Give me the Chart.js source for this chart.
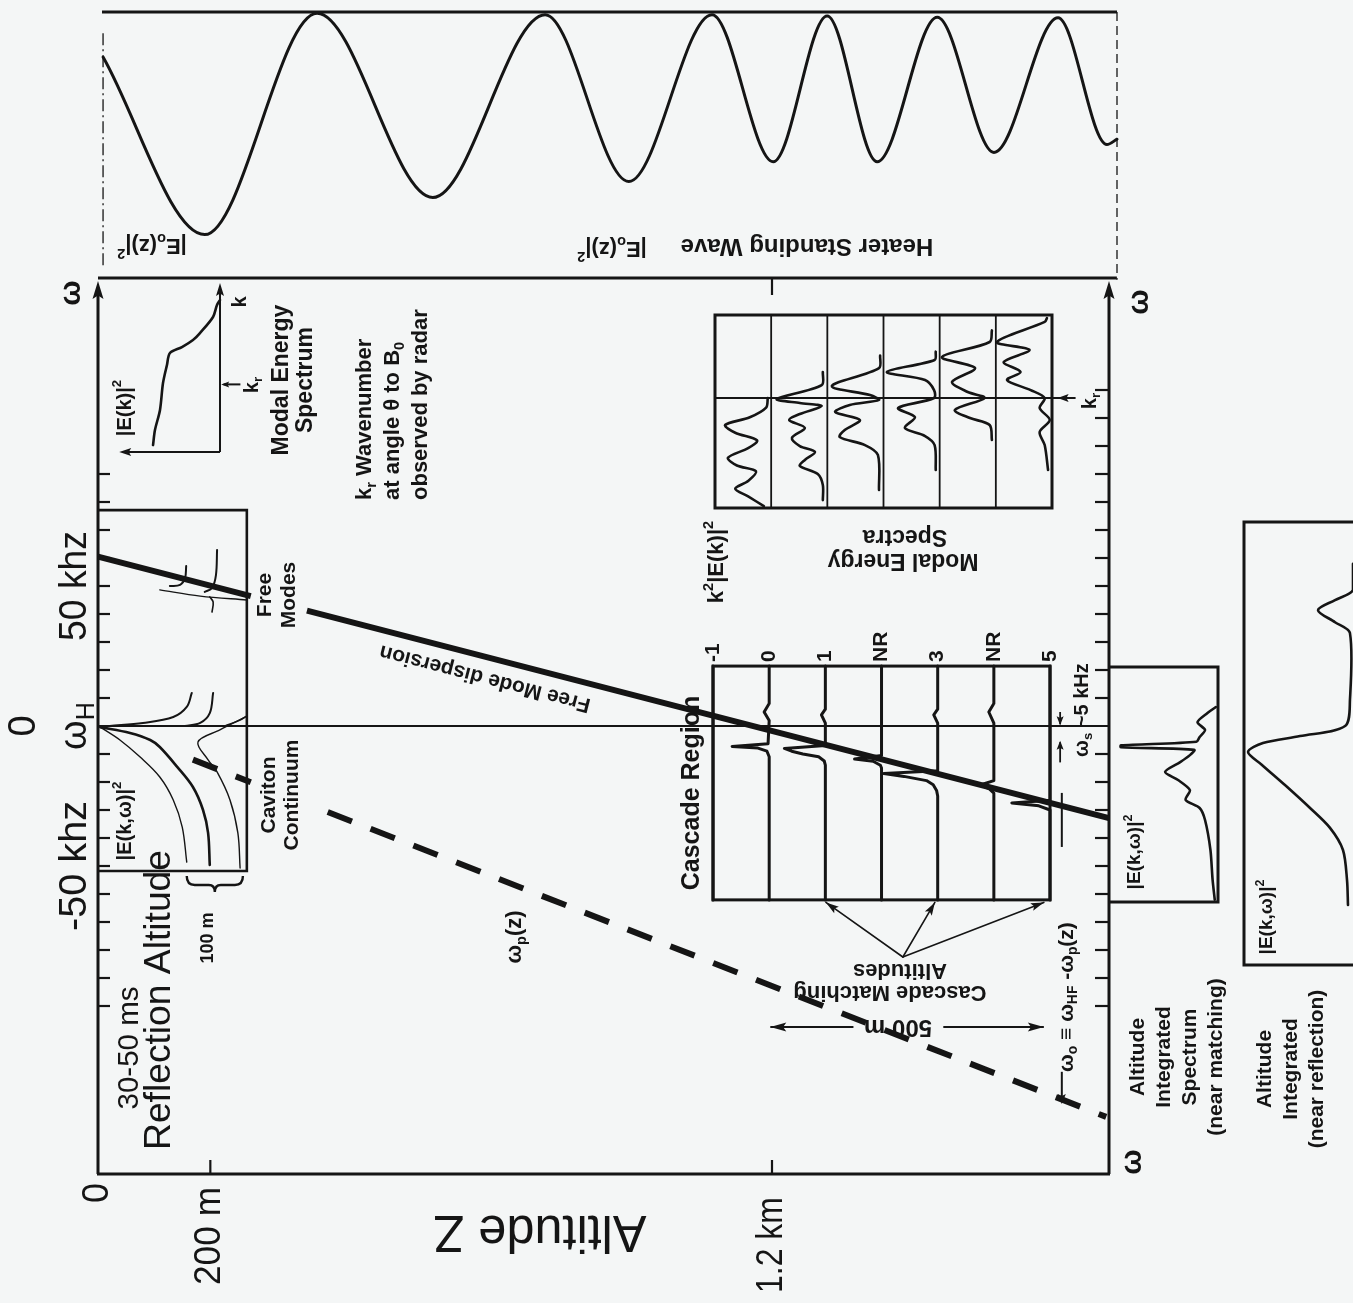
<!DOCTYPE html>
<html>
<head>
<meta charset="utf-8">
<title>Heater standing wave, cascade and caviton spectra</title>
<script src="https://cdn.jsdelivr.net/npm/chart.js@4.4.1/dist/chart.umd.min.js"></script>
<style>
  html, body { margin:0; padding:0; background:#f4f6f6; }
  #stage { position:relative; width:1353px; height:1303px; overflow:hidden; background:#f4f6f6; }
  #stage canvas { position:absolute; left:0; top:0; }
</style>
</head>
<body>
<div id="stage">
  <canvas id="cMain" width="1353" height="1303"></canvas>
  <canvas id="cWave" width="1353" height="1303"></canvas>
  <canvas id="cSpec" width="1353" height="1303"></canvas>
  <canvas id="cModal" width="1353" height="1303"></canvas>
  <canvas id="cMatch" width="1353" height="1303"></canvas>
  <canvas id="cRefl" width="1353" height="1303"></canvas>
</div>
<script>
// ===================== DATA =====================
// Main panel: altitude Z (m) horizontally, frequency offset from omega_H (kHz) vertically
const zLabelValues = [0, 200, 1200];
const zLabelTexts  = ['0', '200 m', '1.2 km'];
const zTickValues  = [200, 1200];
const wLabelValues = [50, -50];
const wLabelTexts  = ['50 khz', '-50 khz'];
const wTicksLeft  = [-100,-90,-80,-70,-60,-50,-40,-30,-20,-10,10,20,30,40,50,60,70,80,90];
const wTicksRight = [-100,-90,-80,-70,-60,-50,-40,-30,-20,-10,10,20,30,40,50,60,70,80,90,100,110,120];

const omegaHZ = [0, 1800];
const omegaHW = [0, 0];
const freeModeZ = [0, 272, null, 372, 1800];
const freeModeW = [60.5, 46.4, null, 41.2, -32.9];
const plasmaZ = [169, 272, null, 409, 1795];
const plasmaW = [-12.0, -20.1, null, -30.7, -139.6];

// spectra near the reflection altitude (Z in m, omega in kHz)
const reflZ = [
  [4,39,75,110,134,150,158],
  [4,57,93,110,141,169,187,196,199],
  [262,217,178,196,212,235,249,253],
  [21,80,134,158,167],
  [155,182,199,205],
  [226,253,265],
  [157,155,146,128],
  [212,210,203,190],
  [110,182,265],
  [203,205,199]
];
const reflW = [
  [-0.4,-5.0,-11.1,-18.2,-26.4,-36.1,-48.6],
  [-0.4,-2.5,-5.0,-7.5,-14.6,-21.8,-30,-38.2,-49.6],
  [3.2,-1.4,-5.7,-12.1,-16.4,-26.4,-38.2,-50.7],
  [0,1.1,3.2,6.8,11.8],
  [0,1.1,4.6,11.8],
  [0,2.1,3.6],
  [57.1,52.9,50.4,50.0],
  [62.9,53.9,49.3,47.9],
  [48.6,46.4,45.0],
  [40.7,44.3,46.1]
];

// cascade region: column altitudes, labels, spectra (omega kHz, amplitude in m drawn leftwards)
const cascadeColZ = [1095,1195,1295,1395,1495,1595,1695];
const cascadeColLabels = ['-1','0','1','NR','3','NR','5'];
const cascadeW = [
  [21.4,-62.1],
  [21.4,8,5,2,-6.3,-7.3,-7.9,-9,-11,-62.1],
  [21.4,6,4,1,-7,-8,-9,-10,-11,-12.5,-14,-62.1],
  [21.4,-10.5,-11.8,-12.6,-14,-15,-62.1],
  [21.4,6,4,1,-16,-17,-18,-19.5,-21,-23,-25,-62.1],
  [21.4,8,5,1,-19.5,-21,-22.5,-24,-62.1],
  [21.4,-26.5,-27.5,-28.5,-30,-62.1]
];
const cascadeAmp = [
  [0,0],
  [0,0,9,0,2,66,20,4,0,0],
  [0,0,7,0,0,73,60,40,12,2,0,0],
  [0,0,48,15,2,0,0],
  [0,0,7,0,0,96,60,20,8,2,0,0],
  [0,0,9,0,0,23,8,0,0],
  [0,0,68,20,0,0]
];
const matchSrcZ = 1433, matchSrcW = -82.5;
const matchTgtZ = [1296, 1490, 1684], matchTgtW = -63;
const spanZ = [1197, 1684], spanW = -107.5;

// heater standing wave |E0(z)|^2 (normalised) vs altitude
const waveZ = [9, 190, 390, 596, 796, 945, 1093, 1202, 1298, 1387, 1494, 1595, 1709, 1796, 1814];
const waveE = [0.83, 0.16, 0.995, 0.30, 0.99, 0.36, 0.99, 0.435, 0.985, 0.435, 0.98, 0.47, 0.978, 0.50, 0.52];

// modal energy spectrum |E(k)|^2 vs k (inset)
const specAmp = [0.558,0.542,0.5,0.475,0.442,0.417,0.317,0.225,0.167,0.058,0.025,0];
const specK   = [0.041,0.130,0.249,0.408,0.515,0.586,0.621,0.663,0.704,0.799,0.870,0.899];
const specKr  = 0.40;

// modal energy spectra per cascade altitude (column-local position, k)
const modalColU = [
  [0.94,0.91,0.62,0.18,0.36,0.75,0.59,0.23,0.39,0.73,0.59,0.36,0.59,0.87],
  [0.92,0.90,0.10,0.51,0.90,0.51,0.32,0.60,0.37,0.51,0.78,0.60,0.51,0.83,0.92,0.92],
  [0.94,0.92,0.08,0.76,0.92,0.40,0.14,0.58,0.31,0.22,0.67,0.90,0.92],
  [0.93,0.91,0.06,0.74,0.90,0.90,0.26,0.56,0.38,0.74,0.91,0.93],
  [0.93,0.89,0.04,0.63,0.22,0.50,0.80,0.27,0.54,0.89,0.93],
  [0.91,0.87,0.02,0.60,0.14,0.44,0.20,0.62,0.87,0.78,0.96,0.78,0.87,0.93]
];
const modalColK = [
  [0.57,0.52,0.47,0.43,0.39,0.35,0.31,0.26,0.22,0.19,0.14,0.10,0.06,0.01],
  [0.705,0.637,0.565,0.544,0.528,0.487,0.456,0.415,0.363,0.321,0.290,0.249,0.218,0.176,0.119,0.041],
  [0.79,0.725,0.632,0.585,0.56,0.534,0.497,0.456,0.404,0.368,0.326,0.275,0.093],
  [0.81,0.767,0.705,0.663,0.611,0.57,0.518,0.471,0.415,0.373,0.326,0.197],
  [0.92,0.86,0.782,0.725,0.653,0.601,0.57,0.508,0.466,0.43,0.352],
  [0.984,0.964,0.86,0.819,0.756,0.705,0.663,0.611,0.57,0.518,0.456,0.394,0.326,0.197]
];
const modalKr = 0.57;

// altitude integrated spectrum near matching (omega kHz, relative amplitude)
const nmW   = [6.8,4.6,1.4,-1.4,-3.9,-5.6,-6.9,-7.6,-8.5,-10.4,-12.9,-16.4,-19.3,-22.9,-26.4,-29.3,-33.6,-44.3,-55,-62.1];
const nmAmp = [0.02,0.10,0.19,0.12,0.17,0.20,0.90,0.90,0.22,0.26,0.35,0.49,0.37,0.26,0.30,0.17,0.12,0.07,0.05,0.03];
// altitude integrated near reflection
const nrW   = [58,48.6,45,41.4,37.1,33.2,9.3,0,-3.6,-6.1,-9.3,-13.9,-21.1,-29.3,-36.4,-44.3,-55,-63.9];
const nrAmp = [0,0,0.165,0.321,0.165,0.028,0.028,0.073,0.486,0.826,0.963,0.835,0.624,0.394,0.211,0.092,0.055,0.046];

// ===================== LAYOUT & STYLE =====================
const W = 1353, H = 1303;
const INK = '#151515';
const FONT = '"Liberation Sans", Arial, Helvetica, sans-serif';
Chart.defaults.font.family = FONT;

const AREA_MAIN  = [98, 278, 1109, 1174];
const AREA_WAVE  = [98, 12, 1117, 277];
const AREA_SPEC  = [100, 283, 220, 452];
const AREA_MODAL = [715, 315, 1052, 508];
const AREA_MATCH = [1110, 667, 1218, 902];
const AREA_REFL  = [1244, 522, 1353, 965];
const REFL_BOX = {z1:265, top:77.1, bot:-51.8};
const CASC_BOX = {top:21.4, bot:-62.1};
const TOP_LINE_END_Z = 1814;

const LABELS = [
  {t:'ω', x:72, y:293, s:30, b:true, r:-90},
  {t:'ω', x:1140, y:302, s:30, b:true, r:-90},
  {t:'ω', x:1133, y:1162, s:30, b:true, r:-90},
  {t:'30-50 ms', x:130, y:1048, s:30, r:-90, w:123},
  {t:'Reflection Altitude', x:160, y:1000, s:36, r:-90, w:300},
  {t:'100 m', x:208, y:938, s:18, b:true, r:-90},
  {t:'|E(k,ω)|^{2}', x:125, y:821, s:20, b:true, r:-90},
  {t:'Caviton\nContinuum', x:281, y:795, s:21, b:true, r:-90, lh:23},
  {t:'Free\nModes', x:277, y:595, s:21, b:true, r:-90, lh:24},
  {t:'Modal Energy\nSpectrum', x:294, y:380, s:23, b:true, r:-90, lh:24},
  {t:'k_{r} Wavenumber\nat angle θ to B_{0}\nobserved by radar', x:393, y:500, s:22, b:true, r:-90, lh:28, a:'left'},
  {t:'k', x:240, y:302, s:20, b:true, r:-90},
  {t:'k_{r}', x:252, y:385, s:20, b:true, r:-90},
  {t:'|E(k)|^{2}', x:125, y:408, s:20, b:true, r:-90},
  {t:'Cascade Region', x:692, y:793, s:25, b:true, r:-90},
  {t:'ω_{p}(z)', x:515, y:937, s:22, b:true, r:-90},
  {t:'k^{2}|E(k)|^{2}', x:717, y:562, s:22, b:true, r:-90},
  {t:'ω_{s} ~5 kHz', x:1082, y:757, s:20, b:true, r:-90, a:'left'},
  {t:'ω_{o} ≡ ω_{HF} -ω_{p}(z)', x:1067, y:1072, s:21, b:true, r:-90, a:'left'},
  {t:'Altitude\nIntegrated\nSpectrum\n(near matching)', x:1177, y:1057, s:21, b:true, r:-90, lh:26},
  {t:'Altitude\nIntegrated\n(near reflection)', x:1291, y:1069, s:21, b:true, r:-90, lh:26},
  {t:'|E(k,ω)|^{2}', x:1135, y:852, s:19, b:true, r:-90},
  {t:'|E(k,ω)|^{2}', x:1267, y:917, s:19, b:true, r:-90},
  {t:'k_{r}', x:1090, y:401, s:20, b:true, r:-90},
  {t:'Altitude Z', x:540, y:1230, s:52, r:180, w:213},
  {t:'Free Mode dispersion', x:485, y:678, s:21, b:true, r:194.5},
  {t:'500 m', x:898, y:1027, s:24, b:true, r:180},
  {t:'Cascade Matching', x:890, y:992, s:22, b:true, r:180},
  {t:'Altitudes', x:900, y:970, s:22, b:true, r:180},
  {t:'Modal Energy', x:903, y:560, s:23, b:true, r:180},
  {t:'Spectra', x:905, y:536, s:23, b:true, r:180},
  {t:'Heater Standing Wave', x:807, y:246, s:24, b:true, r:180},
  {t:'|E_{o}(z)|^{2}', x:612, y:248, s:22, b:true, r:180},
  {t:'|E_{o}(z)|^{2}', x:152, y:245, s:22, b:true, r:180}
];

// ===================== HELPERS =====================
function fontStr(size, bold){ return (bold ? 'bold ' : '') + size + 'px ' + FONT; }
function parseRich(s){
  const segs = []; let buf = ''; let i = 0;
  while (i < s.length){
    const c = s[i];
    if ((c === '_' || c === '^') && s[i+1] === '{'){
      if (buf){ segs.push({t:buf, m:0}); buf=''; }
      const j = s.indexOf('}', i);
      segs.push({t:s.slice(i+2, j), m: c === '_' ? 1 : 2});
      i = j + 1;
    } else { buf += c; i++; }
  }
  if (buf) segs.push({t:buf, m:0});
  return segs;
}
function richWidth(ctx, segs, size, bold){
  let w = 0;
  for (const sg of segs){ ctx.font = fontStr(sg.m ? size*0.66 : size, bold); w += ctx.measureText(sg.t).width; }
  return w;
}
function drawLabel(ctx, L){
  const lines = L.t.split('\n');
  const size = L.s, bold = !!L.b, lh = L.lh || size*1.15, n = lines.length;
  ctx.save();
  ctx.translate(L.x, L.y);
  ctx.rotate((L.r || 0) * Math.PI / 180);
  ctx.fillStyle = INK; ctx.textBaseline = 'middle'; ctx.textAlign = 'left';
  lines.forEach((ln, i) => {
    const segs = parseRich(ln);
    const tw = richWidth(ctx, segs, size, bold);
    const sx = L.w ? L.w / tw : 1;
    ctx.save();
    ctx.translate(0, (i - (n-1)/2) * lh);
    ctx.scale(sx, 1);
    let cx = L.a === 'left' ? 0 : -tw/2;
    for (const sg of segs){
      const fs = sg.m ? size*0.66 : size;
      ctx.font = fontStr(fs, bold);
      const dy = sg.m === 1 ? size*0.30 : (sg.m === 2 ? -size*0.36 : 0);
      ctx.fillText(sg.t, cx, dy);
      cx += ctx.measureText(sg.t).width;
    }
    ctx.restore();
  });
  ctx.restore();
}
function seg(ctx, x1, y1, x2, y2){ ctx.beginPath(); ctx.moveTo(x1, y1); ctx.lineTo(x2, y2); ctx.stroke(); }
function arrowHead(ctx, x1, y1, x2, y2, len, wid){
  const a = Math.atan2(y2 - y1, x2 - x1);
  ctx.save(); ctx.translate(x2, y2); ctx.rotate(a);
  ctx.beginPath(); ctx.moveTo(0, 0); ctx.lineTo(-len, wid/2); ctx.lineTo(-len*0.8, 0); ctx.lineTo(-len, -wid/2); ctx.closePath();
  ctx.fill(); ctx.restore();
}
function pts(xs, ys){
  const out = [];
  for (let i = 0; i < xs.length; i++){
    if (xs[i] === null || ys[i] === null) out.push({x: xs[i-1], y: null});
    else out.push({x: xs[i], y: ys[i]});
  }
  return out;
}
function line(data, o){
  return Object.assign({data, showLine:true, borderColor:INK, backgroundColor:INK, borderWidth:2,
    pointRadius:0, pointHoverRadius:0, tension:0, fill:false, clip:false, spanGaps:false,
    borderCapStyle:'round', borderJoinStyle:'round'}, o || {});
}
function lin(min, max, rev){ return {type:'linear', min, max, reverse: !!rev, display:false}; }
function makeChart(id, area, scales, datasets, plugin){
  return new Chart(document.getElementById(id).getContext('2d'), {
    type:'scatter',
    data:{datasets},
    options:{
      responsive:false, animation:false, devicePixelRatio:1, events:[],
      layout:{padding:{left:area[0], top:area[1], right:W - area[2], bottom:H - area[3]}},
      plugins:{legend:{display:false}, tooltip:{enabled:false}, title:{display:false}},
      scales
    },
    plugins: plugin ? [plugin] : []
  });
}

// ===================== MAIN PANEL =====================
const mainSets = [];
mainSets.push(line(pts(omegaHZ, omegaHW), {borderWidth:2.2, borderCapStyle:'butt'}));
mainSets.push(line(pts(freeModeZ, freeModeW), {borderWidth:6, borderCapStyle:'butt'}));
mainSets.push(line(pts(plasmaZ, plasmaW), {borderWidth:6, borderDash:[26,20], borderCapStyle:'butt'}));
const reflWidths = [1.4, 2.6, 1.4, 2, 2, 1.6, 2, 2, 1.4, 1.6];
reflZ.forEach((zs, i) => mainSets.push(line(pts(zs, reflW[i]), {borderWidth: reflWidths[i], tension:0.35})));
cascadeW.forEach((ws, c) => mainSets.push(line(pts(cascadeAmp[c].map(a => cascadeColZ[c] - a), ws), {borderWidth:3})));
matchTgtZ.forEach(z => mainSets.push(line(pts([matchSrcZ, z], [matchSrcW, matchTgtW]), {borderWidth:1.6})));
const SPAN_GAP = [1345, 1505];
mainSets.push(line(pts([spanZ[0], SPAN_GAP[0], null, SPAN_GAP[1], spanZ[1]], [spanW, spanW, null, spanW, spanW]), {borderWidth:2, borderCapStyle:'butt'}));

const mainPlugin = {
  id:'mainDeco',
  beforeDatasetsDraw(ch){
    const ctx = ch.ctx, X = ch.scales.x, Y = ch.scales.y, a = ch.chartArea;
    const px = v => X.getPixelForValue(v), py = v => Y.getPixelForValue(v);
    ctx.save();
    ctx.strokeStyle = INK; ctx.fillStyle = INK; ctx.lineCap = 'butt';
    // axes
    ctx.lineWidth = 3;
    seg(ctx, a.left, a.bottom, a.left, a.top + 14);
    arrowHead(ctx, a.left, a.bottom, a.left, a.top + 3, 18, 11);
    seg(ctx, a.right, a.bottom, a.right, a.top + 14);
    arrowHead(ctx, a.right, a.bottom, a.right, a.top + 3, 18, 11);
    seg(ctx, a.left - 1, a.bottom, a.right + 1, a.bottom);
    seg(ctx, a.left, a.top, px(TOP_LINE_END_Z), a.top);
    // ticks
    ctx.lineWidth = 2.2;
    wTicksLeft.forEach(w => seg(ctx, a.left, py(w), a.left + 12, py(w)));
    wTicksRight.forEach(w => seg(ctx, a.right, py(w), a.right - 14, py(w)));
    zTickValues.forEach(z => seg(ctx, px(z), a.bottom, px(z), a.bottom - 14));
    seg(ctx, px(1200), a.top, px(1200), a.top + 17);
    // reflection inset frame (top, right, bottom)
    ctx.lineWidth = 2.6;
    ctx.beginPath();
    ctx.moveTo(a.left, py(REFL_BOX.top)); ctx.lineTo(px(REFL_BOX.z1), py(REFL_BOX.top));
    ctx.lineTo(px(REFL_BOX.z1), py(REFL_BOX.bot)); ctx.lineTo(a.left, py(REFL_BOX.bot));
    ctx.stroke();
    // cascade box frame
    ctx.lineWidth = 3;
    const cz0 = px(cascadeColZ[0]), cz1 = px(cascadeColZ[cascadeColZ.length - 1]);
    ctx.strokeRect(cz0, py(CASC_BOX.top), cz1 - cz0, py(CASC_BOX.bot) - py(CASC_BOX.top));
    // 100 m brace
    ctx.lineWidth = 2.4;
    const bx0 = px(158), bx1 = px(258), by = py(-56.8), bm = (bx0 + bx1) / 2;
    ctx.beginPath();
    ctx.moveTo(bx0, by - 9); ctx.quadraticCurveTo(bx0, by, bx0 + 8, by);
    ctx.lineTo(bm - 6, by); ctx.quadraticCurveTo(bm, by, bm, by + 7);
    ctx.quadraticCurveTo(bm, by, bm + 6, by); ctx.lineTo(bx1 - 8, by);
    ctx.quadraticCurveTo(bx1, by, bx1, by - 9);
    ctx.stroke();
    // axis tick labels
    wLabelValues.forEach((w, i) => drawLabel(ctx, {t: wLabelTexts[i], x: 76, y: py(w), s: 38, r: -90, w: i === 0 ? 110 : 130}));
    drawLabel(ctx, {t:'0', x:25, y:py(0), s:38, r:-90});
    drawLabel(ctx, {t:'ω_{H}', x:76, y:py(0), s:38, r:-90});
    const zLabelY = [1193, 1236, 1245], zLabelW = [null, 98, 96];
    zLabelValues.forEach((z, i) => drawLabel(ctx, {t: zLabelTexts[i], x: px(z), y: zLabelY[i], s: 36, r: -90, w: zLabelW[i]}));
    // cascade column labels
    cascadeColZ.forEach((z, i) => drawLabel(ctx, {t: cascadeColLabels[i], x: px(z), y: 662, s: 21, b: true, r: -90, a: 'left'}));
    // free-floating annotations
    LABELS.forEach(L => drawLabel(ctx, L));
    ctx.restore();
  },
  afterDatasetsDraw(ch){
    const ctx = ch.ctx, X = ch.scales.x, Y = ch.scales.y;
    const px = v => X.getPixelForValue(v), py = v => Y.getPixelForValue(v);
    ctx.save(); ctx.strokeStyle = INK; ctx.fillStyle = INK;
    // cascade matching arrow heads
    matchTgtZ.forEach(z => arrowHead(ctx, px(matchSrcZ), py(matchSrcW), px(z), py(matchTgtW), 13, 8));
    // 500 m span arrows
    arrowHead(ctx, px(SPAN_GAP[0]), py(spanW), px(spanZ[0]), py(spanW), 16, 9);
    arrowHead(ctx, px(SPAN_GAP[1]), py(spanW), px(spanZ[1]), py(spanW), 16, 9);
    // omega_s bracket arrows
    ctx.lineWidth = 1.8;
    const zs = 1713;
    seg(ctx, px(zs), py(5), px(zs), py(0.6));
    arrowHead(ctx, px(zs), py(5), px(zs), py(0.3), 9, 7);
    seg(ctx, px(zs), py(-13), px(zs), py(-5.8));
    arrowHead(ctx, px(zs), py(-13), px(zs), py(-5.3), 9, 7);
    // omega_0 label leader and arrow
    ctx.lineWidth = 2;
    seg(ctx, px(1716), py(-23.9), px(1716), py(-43.2));
    seg(ctx, px(1716), py(-123.5), px(1716), py(-133));
    arrowHead(ctx, px(1716), py(-123.5), px(1716), py(-135), 10, 8);
    ctx.restore();
  }
};
makeChart('cMain', AREA_MAIN, {x: lin(0, 1800), y: lin(-160, 160)}, mainSets, mainPlugin);

// ===================== HEATER STANDING WAVE =====================
const wavePlugin = {
  id:'waveDeco',
  afterDatasetsDraw(ch){
    const ctx = ch.ctx, X = ch.scales.x, Y = ch.scales.y;
    const px = v => X.getPixelForValue(v), py = v => Y.getPixelForValue(v);
    ctx.save(); ctx.strokeStyle = INK; ctx.lineWidth = 3;
    seg(ctx, px(0) + 4, py(1), px(1814), py(1));
    ctx.lineWidth = 1.3;
    ctx.setLineDash([12, 4, 2, 4]);
    seg(ctx, px(9), py(0.92), px(9), py(0.03));
    ctx.setLineDash([9, 5]);
    seg(ctx, px(1814), py(1), px(1814), py(-0.01));
    ctx.restore();
  }
};
makeChart('cWave', AREA_WAVE, {x: lin(0, 1814), y: lin(0, 1)},
  [line(pts(waveZ, waveE), {borderWidth:3, cubicInterpolationMode:'monotone'})], wavePlugin);

// ===================== MODAL ENERGY SPECTRUM (inset) =====================
const specPlugin = {
  id:'specDeco',
  afterDatasetsDraw(ch){
    const ctx = ch.ctx, X = ch.scales.x, Y = ch.scales.y;
    const px = v => X.getPixelForValue(v), py = v => Y.getPixelForValue(v);
    ctx.save(); ctx.strokeStyle = INK; ctx.fillStyle = INK; ctx.lineWidth = 2;
    seg(ctx, px(0), py(0), px(0), py(0.95));
    arrowHead(ctx, px(0), py(0), px(0), py(1), 13, 8);
    seg(ctx, px(0), py(0), px(0.78), py(0));
    arrowHead(ctx, px(0), py(0), px(0.84), py(0), 12, 8);
    seg(ctx, px(-0.17), py(specKr), px(-0.03), py(specKr));
    arrowHead(ctx, px(-0.17), py(specKr), px(-0.01), py(specKr), 8, 6);
    ctx.restore();
  }
};
makeChart('cSpec', AREA_SPEC, {x: lin(0, 1, true), y: lin(0, 1)},
  [line(pts(specAmp, specK), {borderWidth:2.6, tension:0.3})], specPlugin);

// ===================== MODAL ENERGY SPECTRA (cascade) =====================
const modalPlugin = {
  id:'modalDeco',
  beforeDatasetsDraw(ch){
    const ctx = ch.ctx, X = ch.scales.x, Y = ch.scales.y, a = ch.chartArea;
    const px = v => X.getPixelForValue(v), py = v => Y.getPixelForValue(v);
    ctx.save(); ctx.strokeStyle = INK; ctx.fillStyle = INK;
    ctx.lineWidth = 3; ctx.strokeRect(a.left, a.top, a.right - a.left, a.bottom - a.top);
    ctx.lineWidth = 1.8;
    for (let c = 1; c < modalColU.length; c++) seg(ctx, px(c), a.top, px(c), a.bottom);
    seg(ctx, a.left, py(modalKr), px(6.42), py(modalKr));
    arrowHead(ctx, px(6.42), py(modalKr), px(6.1), py(modalKr), 11, 8);
    ctx.restore();
  }
};
makeChart('cModal', AREA_MODAL, {x: lin(0, 6), y: lin(0, 1)},
  modalColU.map((us, c) => line(pts(us.map(u => c + u), modalColK[c]), {borderWidth:2.6, tension:0.3})), modalPlugin);

// ===================== ALTITUDE INTEGRATED (near matching) =====================
const matchPlugin = {
  id:'matchDeco',
  afterDatasetsDraw(ch){
    const ctx = ch.ctx, a = ch.chartArea;
    ctx.save(); ctx.strokeStyle = INK; ctx.lineWidth = 3;
    ctx.beginPath(); ctx.moveTo(a.left, a.top); ctx.lineTo(a.right, a.top); ctx.lineTo(a.right, a.bottom); ctx.lineTo(a.left, a.bottom); ctx.stroke();
    ctx.restore();
  }
};
makeChart('cMatch', AREA_MATCH, {x: lin(0, 1, true), y: lin(-62.9, 21.1)},
  [line(pts(nmAmp, nmW), {borderWidth:2.6, tension:0.25})], matchPlugin);

// ===================== ALTITUDE INTEGRATED (near reflection) =====================
const reflPlugin = {
  id:'reflDeco',
  afterDatasetsDraw(ch){
    const ctx = ch.ctx, a = ch.chartArea;
    ctx.save(); ctx.strokeStyle = INK; ctx.lineWidth = 3;
    ctx.beginPath(); ctx.moveTo(a.right + 5, a.top); ctx.lineTo(a.left, a.top); ctx.lineTo(a.left, a.bottom); ctx.lineTo(a.right + 5, a.bottom); ctx.stroke();
    ctx.restore();
  }
};
makeChart('cRefl', AREA_REFL, {x: lin(0, 1, true), y: lin(-85.4, 72.9)},
  [line(pts(nrAmp, nrW), {borderWidth:2.6, tension:0.3})], reflPlugin);
</script>
</body>
</html>
